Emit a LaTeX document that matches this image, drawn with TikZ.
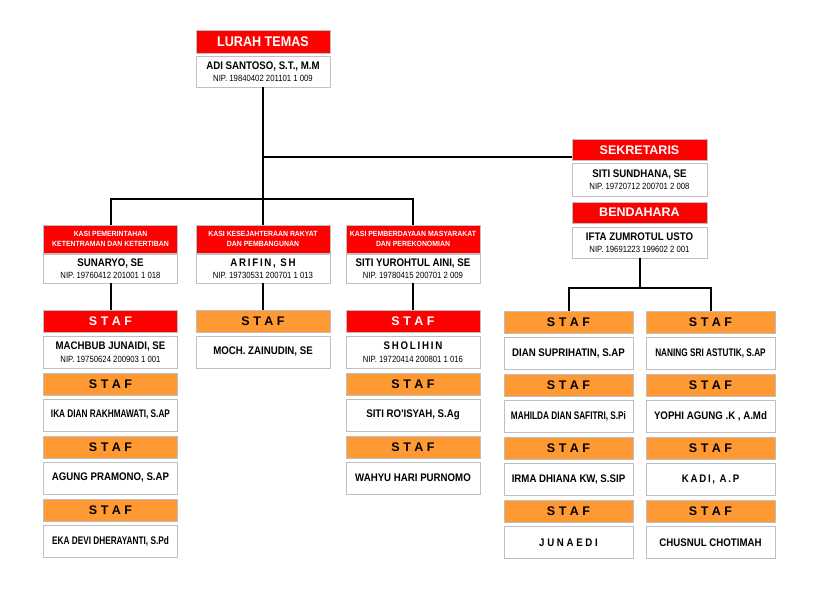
\documentclass[tikz,border=0pt]{standalone}
\usepackage{fontspec}
\setmainfont{Liberation Sans}
\newfontfamily\nameFont[FakeStretch=0.88]{Liberation Sans}
\newfontfamily\narrowFont[FakeStretch=0.75]{Liberation Sans}
\newfontfamily\nipFont[FakeStretch=0.86]{Liberation Sans}
\newfontfamily\headFont[FakeStretch=0.9]{Liberation Sans}
\newfontfamily\kasiFont[FakeStretch=0.92]{Liberation Sans}
\newfontfamily\spacedFont[FakeStretch=0.88,LetterSpace=16]{Liberation Sans}
\usepackage{xcolor}
\definecolor{CRed}{HTML}{FF0000}
\definecolor{COrange}{HTML}{FF9933}
\definecolor{CBorder}{HTML}{BFBFBF}
\usepackage{tikz}
\tikzstyle{redHead}=[rectangle, draw=CBorder, fill=CRed, text=white, inner sep=0pt,
  align=center, font=\bfseries]
\tikzstyle{stafHead}=[rectangle, draw=CBorder, fill=COrange, text=black, inner sep=0pt,
  minimum height=22pt, font=\fontsize{12.5}{13}\selectfont\bfseries]
\tikzstyle{stafRed}=[stafHead, fill=CRed, text=white]
\tikzstyle{kasiHead}=[redHead, minimum width=134pt, minimum height=28pt,
  font=\kasiFont\fontsize{7.5}{10}\selectfont\bfseries]
\tikzstyle{nameBox}=[rectangle, draw=CBorder, fill=white, inner sep=0pt, align=center,
  minimum height=32pt, font=\nameFont\fontsize{11}{12.5}\selectfont\bfseries]
\tikzstyle{leftCol}=[minimum width=134pt]
\tikzstyle{rightCol}=[minimum width=129pt]
\tikzstyle{link}=[line width=2pt, black]
\newcommand{\nipLine}[1]{{\nipFont\mdseries\fontsize{9}{10}\selectfont NIP. #1}}

\begin{document}
\begin{tikzpicture}[x=1pt, y=-1pt]
\useasboundingbox (0,0) rectangle (814,606);

\node[redHead, leftCol, minimum height=23pt, font=\headFont\fontsize{14}{16}\selectfont\bfseries] (lurahHead) at (263,41.5) {LURAH TEMAS};
\node[nameBox, leftCol, minimum height=31pt] (lurahName) at (263,71.5) {ADI SANTOSO, S.T., M.M\\\nipLine{19840402 201101 1 009}};

\node[redHead, minimum width=135pt, minimum height=21pt, font=\fontsize{12.5}{14}\selectfont\bfseries] (sekrHead) at (639.5,150) {SEKRETARIS};
\node[nameBox, minimum width=135pt, minimum height=33pt] (sekrName) at (639.5,179.5) {SITI SUNDHANA, SE\\\nipLine{19720712 200701 2 008}};
\node[redHead, minimum width=135pt, minimum height=21pt, font=\fontsize{12.5}{14}\selectfont\bfseries] (bendHead) at (639.5,212.5) {BENDAHARA};
\node[nameBox, minimum width=135pt, minimum height=31pt] (bendName) at (639.5,242.5) {IFTA ZUMROTUL USTO\\\nipLine{19691223 199602 2 001}};

\node[kasiHead] (pemHead) at (110.5,239) {KASI PEMERINTAHAN\\KETENTRAMAN DAN KETERTIBAN};
\node[nameBox, leftCol, minimum height=29pt] (pemName) at (110.5,268.5) {SUNARYO, SE\\\nipLine{19760412 201001 1 018}};
\node[kasiHead] (kesHead) at (263,239) {KASI KESEJAHTERAAN RAKYAT\\DAN PEMBANGUNAN};
\node[nameBox, leftCol, minimum height=29pt] (kesName) at (263,268.5) {{\spacedFont ARIFIN, SH}\\\nipLine{19730531 200701 1 013}};
\node[kasiHead] (pmdHead) at (413,239) {KASI PEMBERDAYAAN MASYARAKAT\\DAN PEREKONOMIAN};
\node[nameBox, leftCol, minimum height=29pt] (pmdName) at (413,268.5) {SITI YUROHTUL AINI, SE\\\nipLine{19780415 200701 2 009}};

\node[stafRed, leftCol] (pemStaf1) at (110.5,321) {S T A F};
\node[nameBox, leftCol] (pemName1) at (110.5,352) {MACHBUB JUNAIDI, SE\\\nipLine{19750624 200903 1 001}};
\node[stafHead, leftCol] (pemStaf2) at (110.5,384) {S T A F};
\node[nameBox, leftCol] (pemName2) at (110.5,415) {\narrowFont IKA DIAN RAKHMAWATI, S.AP};
\node[stafHead, leftCol] (pemStaf3) at (110.5,447) {S T A F};
\node[nameBox, leftCol] (pemName3) at (110.5,478) {AGUNG PRAMONO, S.AP};
\node[stafHead, leftCol] (pemStaf4) at (110.5,510) {S T A F};
\node[nameBox, leftCol] (pemName4) at (110.5,541) {\narrowFont EKA DEVI DHERAYANTI, S.Pd};

\node[stafHead, leftCol] (kesStaf1) at (263,321) {S T A F};
\node[nameBox, leftCol] (kesName1) at (263,352) {MOCH. ZAINUDIN, SE};

\node[stafRed, leftCol] (pmdStaf1) at (413,321) {S T A F};
\node[nameBox, leftCol] (pmdName1) at (413,352) {{\spacedFont SHOLIHIN}\\\nipLine{19720414 200801 1 016}};
\node[stafHead, leftCol] (pmdStaf2) at (413,384) {S T A F};
\node[nameBox, leftCol] (pmdName2) at (413,415) {SITI RO'ISYAH, S.Ag};
\node[stafHead, leftCol] (pmdStaf3) at (413,447) {S T A F};
\node[nameBox, leftCol] (pmdName3) at (413,478) {WAHYU HARI PURNOMO};

\node[stafHead, rightCol] (sekStafA1) at (568.5,322.5) {S T A F};
\node[nameBox, rightCol] (sekNameA1) at (568.5,353.5) {DIAN SUPRIHATIN, S.AP};
\node[stafHead, rightCol] (sekStafA2) at (568.5,385.5) {S T A F};
\node[nameBox, rightCol] (sekNameA2) at (568.5,416.5) {\narrowFont MAHILDA DIAN SAFITRI, S.Pi};
\node[stafHead, rightCol] (sekStafA3) at (568.5,448.5) {S T A F};
\node[nameBox, rightCol] (sekNameA3) at (568.5,479.5) {IRMA DHIANA KW, S.SIP};
\node[stafHead, rightCol] (sekStafA4) at (568.5,511.5) {S T A F};
\node[nameBox, rightCol] (sekNameA4) at (568.5,542.5) {J U N A E D I};

\node[stafHead, rightCol] (sekStafB1) at (710.5,322.5) {S T A F};
\node[nameBox, rightCol] (sekNameB1) at (710.5,353.5) {\narrowFont NANING SRI ASTUTIK, S.AP};
\node[stafHead, rightCol] (sekStafB2) at (710.5,385.5) {S T A F};
\node[nameBox, rightCol] (sekNameB2) at (710.5,416.5) {YOPHI AGUNG .K , A.Md};
\node[stafHead, rightCol] (sekStafB3) at (710.5,448.5) {S T A F};
\node[nameBox, rightCol] (sekNameB3) at (710.5,479.5) {\spacedFont KADI, A.P};
\node[stafHead, rightCol] (sekStafB4) at (710.5,511.5) {S T A F};
\node[nameBox, rightCol] (sekNameB4) at (710.5,542.5) {CHUSNUL CHOTIMAH};

\coordinate (kasiBar) at (263,199);
\coordinate (stafBar) at (639.5,288);

\draw[link] (lurahName.south) -- (kesHead.north);
\draw[link] (lurahName.south) |- ([yshift=-7pt]sekrHead.west);
\draw[link] (pemHead.north) |- (kasiBar) -| (pmdHead.north);
\draw[link] (pemName.south) -- (pemStaf1.north);
\draw[link] (kesName.south) -- (kesStaf1.north);
\draw[link] (pmdName.south) -- (pmdStaf1.north);
\draw[link] (bendName.south) -- (stafBar);
\draw[link] (sekStafA1.north) |- (stafBar) -| (sekStafB1.north);
\end{tikzpicture}
\end{document}
